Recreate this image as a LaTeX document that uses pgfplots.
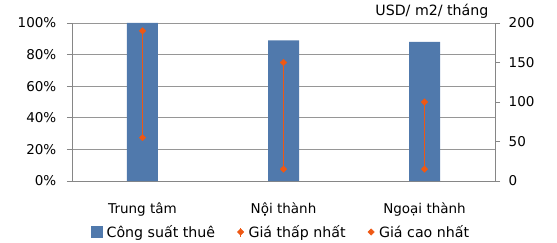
\documentclass[border=0pt]{standalone}
\usepackage{pgfplots}
\pgfplotsset{compat=1.18}
\usepackage{fontspec}
\setmainfont{DejaVu Sans}
\definecolor{barblue}{RGB}{80,121,172}
\definecolor{hlorange}{RGB}{238,88,20}
\definecolor{gridgray}{RGB}{150,150,150}
\definecolor{axgray}{RGB}{134,134,134}
\begin{document}
\fontsize{13.5bp}{16bp}\selectfont
\begin{tikzpicture}
\pgfplotsset{
  base/.style={
    scale only axis, width=423bp, height=158bp,
    at={(0,0)}, anchor=south west,
    xmin=-0.5, xmax=2.5,
    /pgf/number format/assume math mode=true,
    tick label style={font=\fontsize{13.5bp}{16bp}\selectfont},
    axis line style={axgray, line width=0.8pt},
    tick style={axgray, line width=0.8pt},
    tick align=outside,
    major tick length=5bp,
  }
}
\begin{axis}[base,
  axis x line*=bottom, axis y line*=left,
  ymin=0, ymax=100, ytick={0,20,40,60,80,100},
  yticklabel={\pgfmathprintnumber{\tick}\%},
  yticklabel style={xshift=-6bp},
  ymajorgrids, grid style={gridgray, line width=0.8pt},
  xtick={0,1,2}, xticklabels={Trung tâm, Nội thành, Ngoại thành},
  xtick style={draw=none},
  xticklabel style={yshift=-12bp},
  extra x ticks={-0.5,0.5,1.5,2.5}, extra x tick labels={},
  extra x tick style={tick style={axgray, line width=0.8pt}, major tick length=5bp},
]
\addplot[ybar, bar width=31bp, fill=barblue, draw=none] coordinates {(0,100) (1,89) (2,88)};
\end{axis}
\begin{axis}[base, clip=false,
  axis x line=none, axis y line*=right,
  ymin=0, ymax=200, ytick={0,50,100,150,200},
  yticklabel style={xshift=4bp},
  legend style={at={(0.0449,-0.323)}, anchor=west, draw=none, fill=none,
    legend columns=-1, font=\fontsize{14.2bp}{16bp}\selectfont,
    /tikz/every odd column/.append style={column sep=1.5bp},
    /tikz/every even column/.append style={column sep=19bp},
    nodes={inner xsep=3bp},
    inner sep=0pt, legend cell align=left},
]
\addlegendimage{legend image code/.code={\fill[barblue] (0,-5.5bp) rectangle (10.5bp,5.5bp);}}
\addlegendentry{Công suất thuê}
\addplot[hlorange, line width=1.6pt, forget plot, unbounded coords=jump]
  coordinates {(0,55) (0,190) (0,nan) (1,15) (1,150) (1,nan) (2,15) (2,100)};
\addplot[only marks, mark=square*, mark options={rotate=45}, mark size=2.3pt, color=hlorange,
  legend image code/.code={
    \draw[hlorange, line width=0.8pt] (3.2bp,-4.5bp) -- (3.2bp,4.5bp);
    \fill[hlorange] (3.2bp,0) +(0,3.2bp) -- +(3.2bp,0) -- +(0,-3.2bp) -- +(-3.2bp,0) -- cycle;
  }]
  coordinates {(0,55) (1,15) (2,15)};
\addlegendentry{Giá thấp nhất}
\addplot[only marks, mark=square*, mark options={rotate=45}, mark size=2.3pt, color=hlorange,
  legend image code/.code={
    \fill[hlorange] (3.2bp,0) +(0,3.2bp) -- +(3.2bp,0) -- +(0,-3.2bp) -- +(-3.2bp,0) -- cycle;
  }]
  coordinates {(0,190) (1,150) (2,100)};
\addlegendentry{Giá cao nhất}
\node[anchor=south east, inner sep=0pt, font=\fontsize{14.2bp}{16bp}\selectfont] at (rel axis cs:0.985,1) [yshift=4.5bp] {USD/ m2/ tháng};
\end{axis}
\pgfresetboundingbox
\path[use as bounding box] (-72bp,-62bp) rectangle (485bp,181bp);
\end{tikzpicture}
\end{document}
